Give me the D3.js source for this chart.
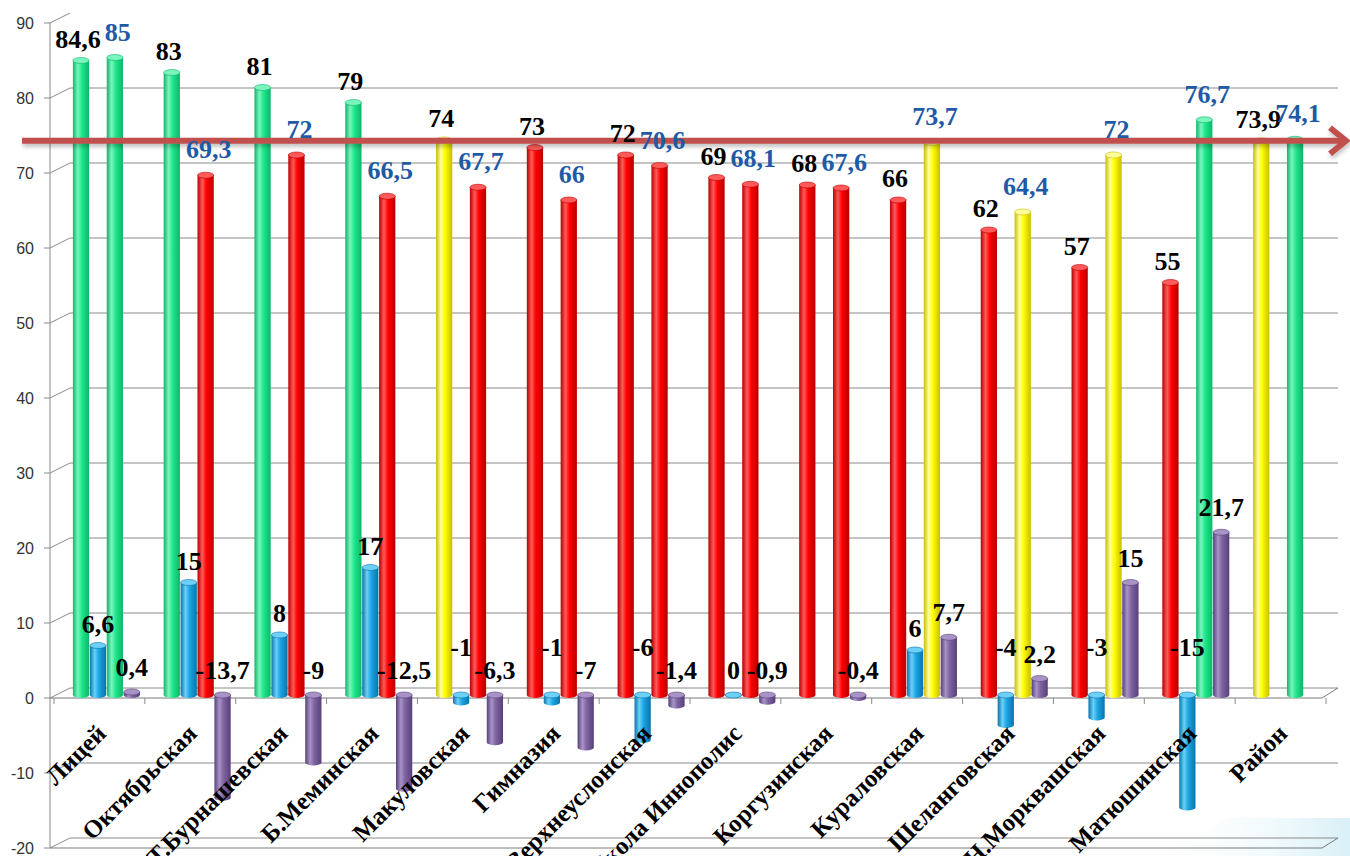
<!DOCTYPE html>
<html><head><meta charset="utf-8">
<script src="https://cdn.jsdelivr.net/npm/d3@7"></script>
<style>body{margin:0;background:#fff;} svg{display:block}</style>
</head><body><svg id="c" width="1350" height="856"></svg>
<script>
const categories = ["Лицей","Октябрьская","Т.Бурнашевская","Б.Меминская","Макуловская","Гимназия","Верхнеуслонская","Школа Иннополис","Коргузинская","Кураловская","Шеланговская","Н.Морквашская","Матюшинская","Район"];
const series1 = [84.6, 83, 81, 79, 74, 73, 72, 69, 68, 66, 62, 57, 55, 73.9];
const series2 = [6.6, 15, 8, 17, -1, -1, -6, 0, null, 6, -4, -3, -15, null];
const series3 = [85, 69.3, 72, 66.5, 67.7, 66, 70.6, 68.1, 67.6, 73.7, 64.4, 72, 76.7, 74.1];
const series4 = [0.4, -13.7, -9, -12.5, -6.3, -7, -1.4, -0.9, -0.4, 7.7, 2.2, 15, 21.7, null];
const series1Level = ["high","high","high","high","mid","low","low","low","low","low","low","low","low","mid"];
const series3Level = ["high","low","low","low","low","low","low","low","low","mid","mid","mid","high","high"];
const yTicks = [-20,-10,0,10,20,30,40,50,60,70,80,90];
const arrowLevel = 73.9;

const SERIF = "'Liberation Serif','Times New Roman','DejaVu Serif',serif";
const svg = d3.select("#c");
const defs = svg.append("defs");

const y = d3.scaleLinear().domain([-20, 90]).range([848, 23]);
const yBar = v => y(v) - 3;
const DX = 20, DY = -10;
const x = d3.scaleBand().domain(categories).range([61, 1332]).paddingInner(0.262).paddingOuter(0.131);
const xSub = d3.scaleBand().domain([0,1,2,3]).range([0, x.bandwidth()]).paddingInner(0.04);
const xFront = d3.scaleBand().domain(categories).range([50, 1322]);

const palette = {
  high: {base:"#1EE88B", dark:"#0FB56A", light:"#7AF5BD"},
  mid:  {base:"#FFFF00", dark:"#C9BE00", light:"#FFFF9A"},
  low:  {base:"#FF0000", dark:"#B80000", light:"#FF5A5A"},
  blue: {base:"#1BA6E4", dark:"#0A73AA", light:"#6CD0F7"},
  purple:{base:"#8064A2", dark:"#56407A", light:"#A893C6"}
};
const colorKey = d3.scaleOrdinal().domain(["high","mid","low","blue","purple"]).range(["high","mid","low","blue","purple"]);
Object.entries(palette).forEach(([k,c]) => {
  const g = defs.append("linearGradient").attr("id","g-"+k).attr("x1","0").attr("x2","1").attr("y1","0").attr("y2","0");
  g.append("stop").attr("offset","0%").attr("stop-color",c.dark);
  g.append("stop").attr("offset","30%").attr("stop-color",c.light);
  g.append("stop").attr("offset","55%").attr("stop-color",c.base);
  g.append("stop").attr("offset","100%").attr("stop-color",c.dark);
});
const sh = defs.append("filter").attr("id","shadow").attr("x","-5%").attr("y","-100%").attr("width","110%").attr("height","300%");
sh.append("feDropShadow").attr("dx",1).attr("dy",3).attr("stdDeviation",2).attr("flood-color","#000").attr("flood-opacity",0.25);
const bg = defs.append("linearGradient").attr("id","bgfade").attr("x1","0").attr("x2","1");
bg.append("stop").attr("offset","0%").attr("stop-color","#ffffff").attr("stop-opacity",0);
bg.append("stop").attr("offset","100%").attr("stop-color","#d8f0f7").attr("stop-opacity",1);

// decorative background corner
svg.append("path").attr("d","M1150,856 L1230,818 L1350,818 L1350,856 Z").attr("fill","url(#bgfade)");

// gridlines (back wall) with depth diagonals
const grid = svg.append("g").attr("fill","none").attr("stroke","#8a8a8a").attr("stroke-width",1);
yTicks.forEach(v => {
  const yy = y(v);
  if (v < 90) {
    grid.append("path").attr("d", `M50,${yy} L${50+DX},${yy+DY} L1338,${yy+DY}`);
  } else {
    grid.append("path").attr("d", `M50,${yy} L${50+DX},${yy+DY}`);
  }
});
// floor planes at 0 and -20
[0, -20].forEach(v => {
  const yy = y(v);
  grid.append("path").attr("d", `M50,${yy} L1322,${yy} L1338,${yy+DY}`).attr("stroke","#7a7a7a");
});
// y axis
svg.append("line").attr("x1",50).attr("x2",50).attr("y1",y(90)).attr("y2",y(-20)).attr("stroke","#8a8a8a");
const yAxis = svg.append("g");
yTicks.forEach(v => {
  yAxis.append("line").attr("x1",44).attr("x2",50).attr("y1",y(v)).attr("y2",y(v)).attr("stroke","#8a8a8a");
  yAxis.append("text").attr("x",34).attr("y",y(v)).attr("dy","0.35em").attr("text-anchor","end")
    .attr("font-family","'Liberation Sans', Arial, sans-serif").attr("font-size",16).attr("fill","#333").text(v);
});
// category ticks
const bounds = categories.map(c => xFront(c)).concat([xFront.range()[1]]);
bounds.forEach(b => {
  svg.append("line").attr("x1",b+4).attr("x2",b+4).attr("y1",y(0)).attr("y2",y(0)+6).attr("stroke","#8a8a8a");
});

// bars
const allSeries = [
  {vals: series1, key: i => series1Level[i], label:"#000"},
  {vals: series2, key: () => "blue", label:"#000"},
  {vals: series3, key: i => series3Level[i], label:"#1F5AA6"},
  {vals: series4, key: () => "purple", label:"#000"}
];
const barW = xSub.bandwidth();
const ry = 3;
const barsG = svg.append("g");
const labelsG = svg.append("g");
const fmt = v => String(v).replace(".", ",");

allSeries.forEach((s, si) => {
  s.vals.forEach((v, i) => {
    if (v === null || v === undefined) return;
    const k = colorKey(s.key(i));
    const c = palette[k];
    const x0 = x(categories[i]) + xSub(si);
    const cx = x0 + barW/2;
    const yTop = yBar(Math.max(v,0));
    const yBot = yBar(Math.min(v,0));
    const g = barsG.append("g");
    g.append("rect").attr("x",x0).attr("y",yTop).attr("width",barW).attr("height",Math.max(0,yBot-yTop)).attr("fill",`url(#g-${k})`);
    g.append("ellipse").attr("cx",cx).attr("cy",yBot).attr("rx",barW/2).attr("ry",ry).attr("fill",`url(#g-${k})`);
    g.append("ellipse").attr("cx",cx).attr("cy",yTop).attr("rx",barW/2).attr("ry",ry).attr("fill",c.light).attr("stroke",c.dark).attr("stroke-width",0.6);

    let ly;
    if (si === 0) ly = yBar(v) - 22;
    else if (si === 2) ly = yBar(v) - 26;
    else if (si === 1) ly = v > 0 ? yBar(v) - 22 : (v === 0 ? yBar(0) - 25 : yBar(0) - 48);
    else ly = v > 0 ? yBar(v) - 25 : yBar(0) - 25;
    const lx = si === 0 ? cx - 3 : (si === 2 ? cx + 3 : cx);
    labelsG.append("text").attr("x",lx).attr("y",ly).attr("dy","0.35em").attr("text-anchor","middle")
      .attr("font-family",SERIF).attr("font-weight","bold")
      .attr("font-size",26).attr("fill",s.label).text(fmt(v));
  });
});

// arrow annotation
const ya = yBar(arrowLevel);
const arrow = svg.insert("g", () => labelsG.node()).attr("filter","url(#shadow)").attr("fill","none").attr("stroke","#C0504D").attr("stroke-width",6);
arrow.append("path").attr("d",`M22,${ya} L1343,${ya}`);
arrow.append("path").attr("d",`M1330,${ya-13} L1346,${ya} L1330,${ya+13}`).attr("stroke-linejoin","miter");

// category labels
const catG = svg.append("g");
categories.forEach(c => {
  const ax = xFront(c) + xFront.bandwidth()/2 + 12;
  const ay = 735;
  catG.append("text").attr("transform",`translate(${ax},${ay}) rotate(-45)`).attr("text-anchor","end")
    .attr("font-family",SERIF).attr("font-weight","bold")
    .attr("font-size",25).attr("fill","#000").text(c);
});
</script>
</body></html>
